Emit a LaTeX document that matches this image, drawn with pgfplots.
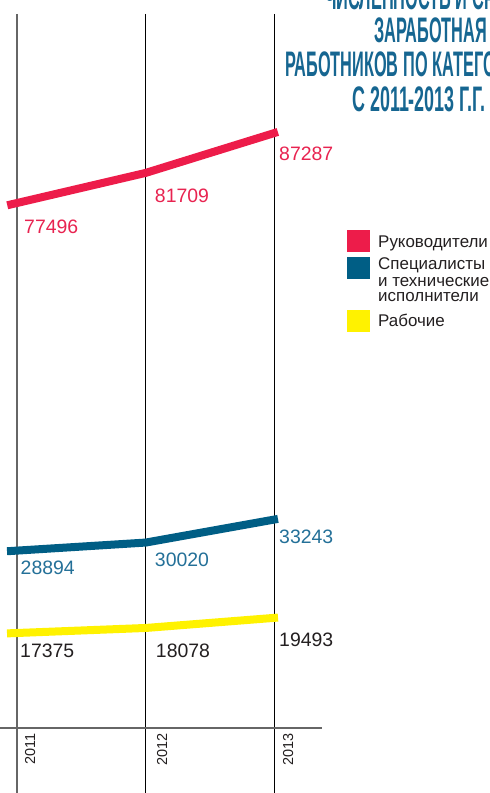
\documentclass[border=0pt]{standalone}
\usepackage{pgfplots}
\pgfplotsset{compat=1.18}
\usepackage{fontspec}
\setmainfont{Liberation Sans}
\newfontfamily\titlefont[FakeStretch=0.46]{Liberation Sans Bold}
\newfontfamily\titlefontb[FakeStretch=0.505]{Liberation Sans Bold}
\definecolor{cred}{RGB}{237,28,74}
\definecolor{cblue}{RGB}{0,94,133}
\definecolor{cyel}{RGB}{255,242,0}
\definecolor{lred}{RGB}{232,35,80}
\definecolor{lblue}{RGB}{36,112,152}
\definecolor{ctitle}{RGB}{22,102,145}
\definecolor{ctext}{RGB}{35,31,32}
\begin{document}
\begin{tikzpicture}[x=1bp,y=1bp]
\useasboundingbox (0,0) rectangle (490,793);
\clip (0,0) rectangle (490,793);
\begin{axis}[at={(0,0)}, anchor=south west, scale only axis,
  width=490bp, height=793bp, axis lines=none, ticks=none,
  xmin=2010.86796, xmax=2014.67379, ymin=-4997, ymax=105884, clip=false]
% grid lines
\draw[black!60, line width=1.3bp] (axis cs:2011,103927) -- (axis cs:2011,-4997);
\draw[black, line width=1bp] (axis cs:2012,103927) -- (axis cs:2012,-4997);
\draw[black, line width=1bp] (axis cs:2013,103927) -- (axis cs:2013,-4997);
\draw[black!60, line width=1.3bp] (axis cs:2010.86796,4092) -- (axis cs:2013.3689,4092);
% series
\addplot[cred, line width=8bp, shorten <=-10bp, shorten >=-3.5bp] coordinates {(2011,77496) (2012,81709) (2013,87287)};
\addplot[cblue, line width=8bp, shorten <=-10bp, shorten >=-3.5bp] coordinates {(2011,28894) (2012,30020) (2013,33243)};
\addplot[cyel, line width=8bp, shorten <=-10bp, shorten >=-3.5bp] coordinates {(2011,17375) (2012,18078) (2013,19493)};
% value labels
\tikzset{vl/.style={anchor=base west, inner sep=0pt, font=\fontsize{19.5}{20}\selectfont}}
\node[vl, text=lred, xshift=7bp, yshift=-30bp] at (axis cs:2011,77496) {77496};
\node[vl, text=lred, xshift=9bp, yshift=-30bp] at (axis cs:2012,81709) {81709};
\node[vl, text=lred, xshift=4.5bp, yshift=-28bp] at (axis cs:2013,87287) {87287};
\node[vl, text=lblue, xshift=3.5bp, yshift=-23.4bp] at (axis cs:2011,28894) {28894};
\node[vl, text=lblue, xshift=9bp, yshift=-24.4bp] at (axis cs:2012,30020) {30020};
\node[vl, text=lblue, xshift=4.5bp, yshift=-23.5bp] at (axis cs:2013,33243) {33243};
\node[vl, text=ctext, xshift=3bp, yshift=-25bp] at (axis cs:2011,17375) {17375};
\node[vl, text=ctext, xshift=10bp, yshift=-30bp] at (axis cs:2012,18078) {18078};
\node[vl, text=ctext, xshift=4.5bp, yshift=-29.1bp] at (axis cs:2013,19493) {19493};
\end{axis}
% year labels
\tikzset{yl/.style={anchor=base east, inner sep=0pt, rotate=90, text=ctext, font=\fontsize{14.5}{15}\selectfont}}
\node[yl] at (35,60) {2011};
\node[yl] at (167,60) {2012};
\node[yl] at (293,60) {2013};
% legend
\fill[cred] (347,541) rectangle (370,563);
\fill[cblue] (347,514) rectangle (370,536);
\fill[cyel] (347,461) rectangle (370,483);
\tikzset{lg/.style={anchor=base west, inner sep=0pt, text=ctext, font=\fontsize{17}{17}\selectfont}}
\node[lg] at (378,545) {Руководители};
\node[lg] at (378,523) {Специалисты};
\node[lg] at (378,506) {и технические};
\node[lg] at (378,491) {исполнители};
\node[lg] at (378,466) {Рабочие};
% title
\tikzset{tt/.style={anchor=base west, inner sep=0pt, text=ctitle, font=\titlefont\fontsize{35.6}{36}\selectfont}}
\node[tt] at (325,783) {ЧИСЛЕННОСТЬ И СРЕДНЕМЕСЯЧНАЯ};
\node[tt] at (374,750) {ЗАРАБОТНАЯ ПЛАТА};
\node[tt] at (285,716) {РАБОТНИКОВ ПО КАТЕГОРИЯМ};
\node[tt, font=\titlefontb\fontsize{35.6}{36}\selectfont] at (352,681.5) {С 2011-2013 Г.Г.};
\end{tikzpicture}
\end{document}
